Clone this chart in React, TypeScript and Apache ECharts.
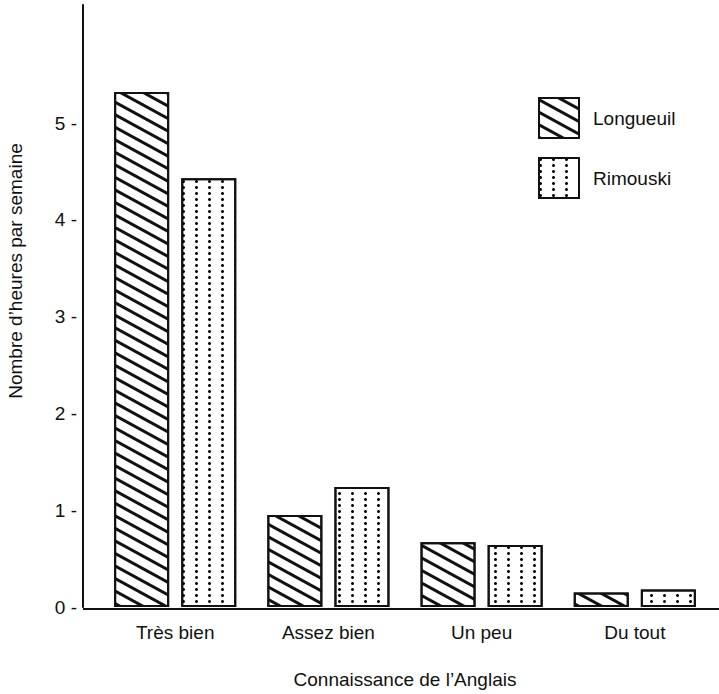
import React, { useEffect, useRef } from "react";
import * as echarts from "echarts";

const categories = ["Très bien", "Assez bien", "Un peu", "Du tout"];
const longueuil = [5.32, 0.95, 0.67, 0.15];
const rimouski = [4.43, 1.24, 0.64, 0.18];
const yTicks = [0, 1, 2, 3, 4, 5];
const seriesNames = ["Longueuil", "Rimouski"];
const xTitle = "Connaissance de l’Anglais";
const yTitle = "Nombre d’heures par semaine";

const FONT = "Liberation Sans, Arial, Helvetica, sans-serif";
const INK = "#111";
const FS = 19;

export default function App() {
  const ref = useRef<HTMLDivElement>(null);
  useEffect(() => {
    if (!ref.current) return;
    const chart = echarts.init(ref.current, null, { renderer: "svg" });
    const stripe = {
      symbol: "rect",
      symbolSize: 1,
      color: INK,
      backgroundColor: "#fff",
      dashArrayX: [1, 0],
      dashArrayY: [2.5, 7.2],
      rotation: 0.5,
    };
    const dots = {
      symbol: "circle",
      symbolSize: 1,
      color: "#000",
      backgroundColor: "#fff",
      dashArrayX: [3, 10],
      dashArrayY: [3, 2.4],
      rotation: 0,
    };
    chart.setOption({
      animation: false,
      backgroundColor: "#fff",
      textStyle: { fontFamily: FONT, color: INK },
      grid: { left: 98.6, top: 5, width: 612.8, height: 603 },
      legend: {
        data: seriesNames,
        orient: "vertical",
        icon: "rect",
        left: 533,
        top: 92,
        itemWidth: 40,
        itemHeight: 40,
        itemGap: 18,
        textStyle: { fontSize: FS, color: INK, fontFamily: FONT, padding: [0, 0, 0, 9] },
      },
      xAxis: {
        type: "category",
        data: categories,
        axisLine: { show: false },
        axisTick: { show: false },
        axisLabel: { fontSize: FS, color: INK, margin: 16, fontFamily: FONT },
        name: xTitle,
        nameLocation: "middle",
        nameGap: 63,
        nameTextStyle: { fontSize: FS, color: INK, fontFamily: FONT },
      },
      yAxis: {
        type: "value",
        min: 0,
        max: 6.22,
        interval: 1,
        offset: 15.6,
        axisLine: { show: true, lineStyle: { color: INK, width: 2 } },
        axisTick: { show: false },
        splitLine: { show: false },
        axisLabel: {
          fontSize: FS,
          color: INK,
          margin: 6,
          fontFamily: FONT,
          formatter: (v: number) => (yTicks.includes(v) ? `${v} -` : ""),
        },
      },
      graphic: [
        {
          type: "line",
          shape: { x1: 83, y1: 609, x2: 719, y2: 609 },
          style: { stroke: INK, lineWidth: 2 },
          z: 0,
        },
        {
          type: "text",
          x: 15,
          y: 271,
          rotation: Math.PI / 2,
          style: {
            text: yTitle,
            font: `${FS}px ${FONT}`,
            fill: INK,
            align: "center",
            verticalAlign: "middle",
          },
        },
      ],
      series: [
        {
          name: seriesNames[0],
          type: "bar",
          data: longueuil,
          barWidth: 55,
          barGap: "22%",
          itemStyle: { color: "#fff", borderColor: INK, borderWidth: 2, decal: stripe },
        },
        {
          name: seriesNames[1],
          type: "bar",
          data: rimouski,
          barWidth: 55,
          barGap: "22%",
          itemStyle: { color: "#fff", borderColor: INK, borderWidth: 2, decal: dots },
        },
      ],
    });
    return () => chart.dispose();
  }, []);
  return (
    <div
      ref={ref}
      style={{ position: "absolute", left: 0, top: 0, width: 719, height: 694 }}
    />
  );
}
